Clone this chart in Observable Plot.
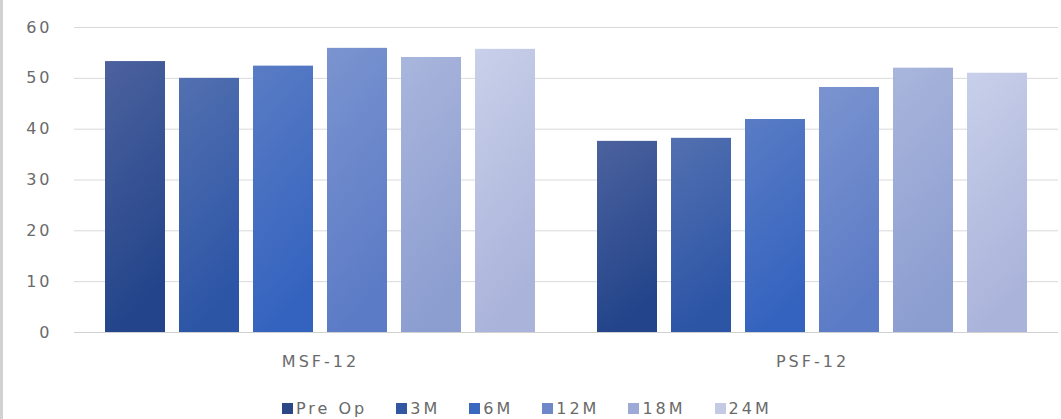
<!DOCTYPE html>
<html>
<head>
<meta charset="utf-8">
<script src="https://cdn.jsdelivr.net/npm/d3@7"></script>
<script src="https://cdn.jsdelivr.net/npm/@observablehq/plot@0.6"></script>
<style>
  html, body { margin: 0; padding: 0; background: #fff; }
  body { width: 1061px; height: 419px; overflow: hidden; position: relative; font-family: "DejaVu Sans", sans-serif; }
  .frame-edge { position: absolute; left: 0; top: 0; width: 3px; height: 419px; background: #d2d2d2; }
  #chart svg text { letter-spacing: 3px; }
  .legend { display: flex; align-items: center; gap: 29px; padding-left: 282px; margin-top: 14px; height: 18px;
            font-size: 16px; letter-spacing: 3px; color: #6a6a6a; }
  .legend .item { display: flex; align-items: center; }
  .legend .sw { width: 11px; height: 11px; margin-right: 3px; }
</style>
</head>
<body>
<div class="frame-edge"></div>
<div id="chart"></div>
<script>
// Groups, follow-up time points and scores
const groups = ["MSF-12", "PSF-12"];
const series = ["Pre Op", "3M", "6M", "12M", "18M", "24M"];
const msfValues = [53.3, 50.0, 52.4, 55.9, 54.1, 55.7];
const psfValues = [37.6, 38.2, 41.9, 48.2, 52.0, 51.0];
const yTicks = [0, 10, 20, 30, 40, 50, 60];

// Bar shading: lighter at the top, deeper at the base
const topColors = ["#4c629e", "#5370b0", "#5a7cc4", "#7b94d0", "#a9b6dc", "#c9d0ea"];
const bottomColors = ["#23448a", "#2c55a6", "#3463bf", "#5c7bc6", "#8c9dd0", "#aab3da"];
const swatchColors = ["#2c4785", "#3356a3", "#3b68bf", "#6f88c9", "#9eaad6", "#c4c9e4"];

const data = groups.flatMap((g, gi) =>
  series.map((s, si) => ({ group: g, series: s, value: (gi === 0 ? msfValues : psfValues)[si] }))
);

const chart = Plot.plot({
  width: 1061,
  height: 385,
  marginTop: 27,
  marginBottom: 53,
  marginLeft: 74,
  marginRight: 3,
  style: { fontFamily: "DejaVu Sans, sans-serif", fontSize: "16px", color: "#6a6a6a", background: "#fff" },
  fx: { domain: groups, padding: 0, label: null },
  x: { domain: series, paddingInner: 0.194, paddingOuter: 0.417, axis: null },
  y: { domain: [0, 60], axis: null },
  color: { domain: series, range: series.map((s, i) => `url(#bar-shade-${i})`) },
  marks: [
    Plot.gridY(yTicks, { stroke: "#d9d9d9", strokeOpacity: 1 }),
    Plot.axisY(yTicks, { tickSize: 0, tickPadding: 22, label: null }),
    Plot.barY(data, { fx: "group", x: "series", y: "value", fill: "series" }),
    Plot.ruleY([0], { stroke: "#d0d0d0" }),
    Plot.axisFx({ anchor: "bottom", tickSize: 0, tickPadding: 23, label: null })
  ]
});

// Gradient definitions referenced by the bar fills
const defs = d3.select(chart).insert("defs", ":first-child");
series.forEach((s, i) => {
  const lg = defs.append("linearGradient")
    .attr("id", `bar-shade-${i}`)
    .attr("x1", 0).attr("y1", 0).attr("x2", 0.25).attr("y2", 1);
  lg.append("stop").attr("offset", 0).attr("stop-color", topColors[i]);
  lg.append("stop").attr("offset", 1).attr("stop-color", bottomColors[i]);
});

document.getElementById("chart").append(chart);

// Series legend below the plot
const legend = d3.select("#chart").append("div").attr("class", "legend");
series.forEach((s, i) => {
  const item = legend.append("div").attr("class", "item");
  item.append("div").attr("class", "sw").style("background", swatchColors[i]);
  item.append("span").text(s);
});
</script>
</body>
</html>
